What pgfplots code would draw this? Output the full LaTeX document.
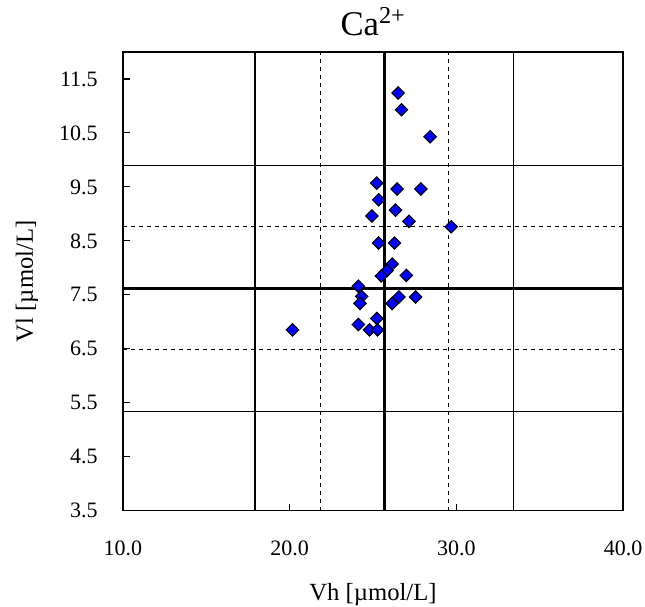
\documentclass[border=0pt]{standalone}
\usepackage{fontspec}
\setmainfont{Liberation Serif}
\usepackage{pgfplots}
\pgfplotsset{compat=1.18}

\begin{document}
\begin{tikzpicture}
\begin{axis}[
    width=375pt, height=344pt, scale only axis,
    xmin=10, xmax=40, ymin=3.5, ymax=12,
    xtick={10,20,30,40},
    ytick={3.5,4.5,5.5,6.5,7.5,8.5,9.5,10.5,11.5},
    xtick pos=bottom, ytick pos=left,
    tick align=inside,
    major tick length=5pt,
    tick style={black, line width=0.8pt},
    axis line style={black, line width=1.1pt},
    /pgf/number format/fixed,
    /pgf/number format/fixed zerofill,
    /pgf/number format/precision=1,
    /pgf/number format/assume math mode=true,
    ticklabel style={font=\fontsize{16.5}{19}\selectfont, inner sep=0pt},
    xticklabel style={anchor=base, yshift=-33.4pt},
    yticklabel style={anchor=east, xshift=-18.75pt},
    title={Ca\textsuperscript{2+}},
    title style={font=\fontsize{26}{30}\selectfont, at={(axis description cs:0.5,1.0175)}, anchor=base},
    xlabel={Vh [µmol/L]},
    xlabel style={font=\fontsize{18.5}{22}\selectfont, at={(axis description cs:0.5,-0.195)}, anchor=base},
    ylabel={Vl [µmol/L]},
    ylabel style={font=\fontsize{18.5}{22}\selectfont, at={(axis description cs:-0.192,0.5)}, anchor=center},
  ]
  % mean and +-1, +-2 sigma lines
  \addplot[black, line width=1pt] coordinates {(17.92,3.5) (17.92,12)};
  \addplot[black, line width=1pt] coordinates {(33.44,3.5) (33.44,12)};
  \addplot[black, line width=0.8pt, dash pattern=on 3pt off 3pt] coordinates {(21.86,3.5) (21.86,12)};
  \addplot[black, line width=0.8pt, dash pattern=on 3pt off 3pt] coordinates {(29.54,3.5) (29.54,12)};
  \addplot[black, line width=2pt] coordinates {(25.70,3.5) (25.70,12)};
  \addplot[black, line width=1pt] coordinates {(10,5.34) (40,5.34)};
  \addplot[black, line width=1pt] coordinates {(10,9.90) (40,9.90)};
  \addplot[black, line width=0.8pt, dash pattern=on 3pt off 3pt] coordinates {(10,6.48) (40,6.48)};
  \addplot[black, line width=0.8pt, dash pattern=on 3pt off 3pt] coordinates {(10,8.76) (40,8.76)};
  \addplot[black, line width=2pt] coordinates {(10,7.62) (40,7.62)};

  \addplot[only marks, mark=square*, mark size=3.3pt,
    mark options={rotate=45, fill=blue, draw=black, line width=0.8pt}] table {
    x     y
    26.51 11.24
    26.71 10.93
    28.43 10.43
    25.23 9.57
    26.45 9.46
    27.87 9.46
    25.34 9.26
    26.35 9.07
    24.93 8.96
    27.16 8.86
    29.69 8.76
    25.34 8.46
    26.29 8.46
    26.15 8.07
    25.84 7.95
    25.50 7.85
    27.00 7.86
    24.12 7.66
    24.32 7.47
    24.22 7.34
    26.55 7.46
    27.56 7.46
    26.15 7.34
    25.23 7.06
    24.12 6.95
    24.79 6.85
    25.27 6.85
    20.17 6.85
  };
\end{axis}
\pgfresetboundingbox
\path ([shift={(-92.25pt,-72pt)}]current axis.south west) rectangle ([shift={(16.5pt,39pt)}]current axis.north east);
\end{tikzpicture}
\end{document}
